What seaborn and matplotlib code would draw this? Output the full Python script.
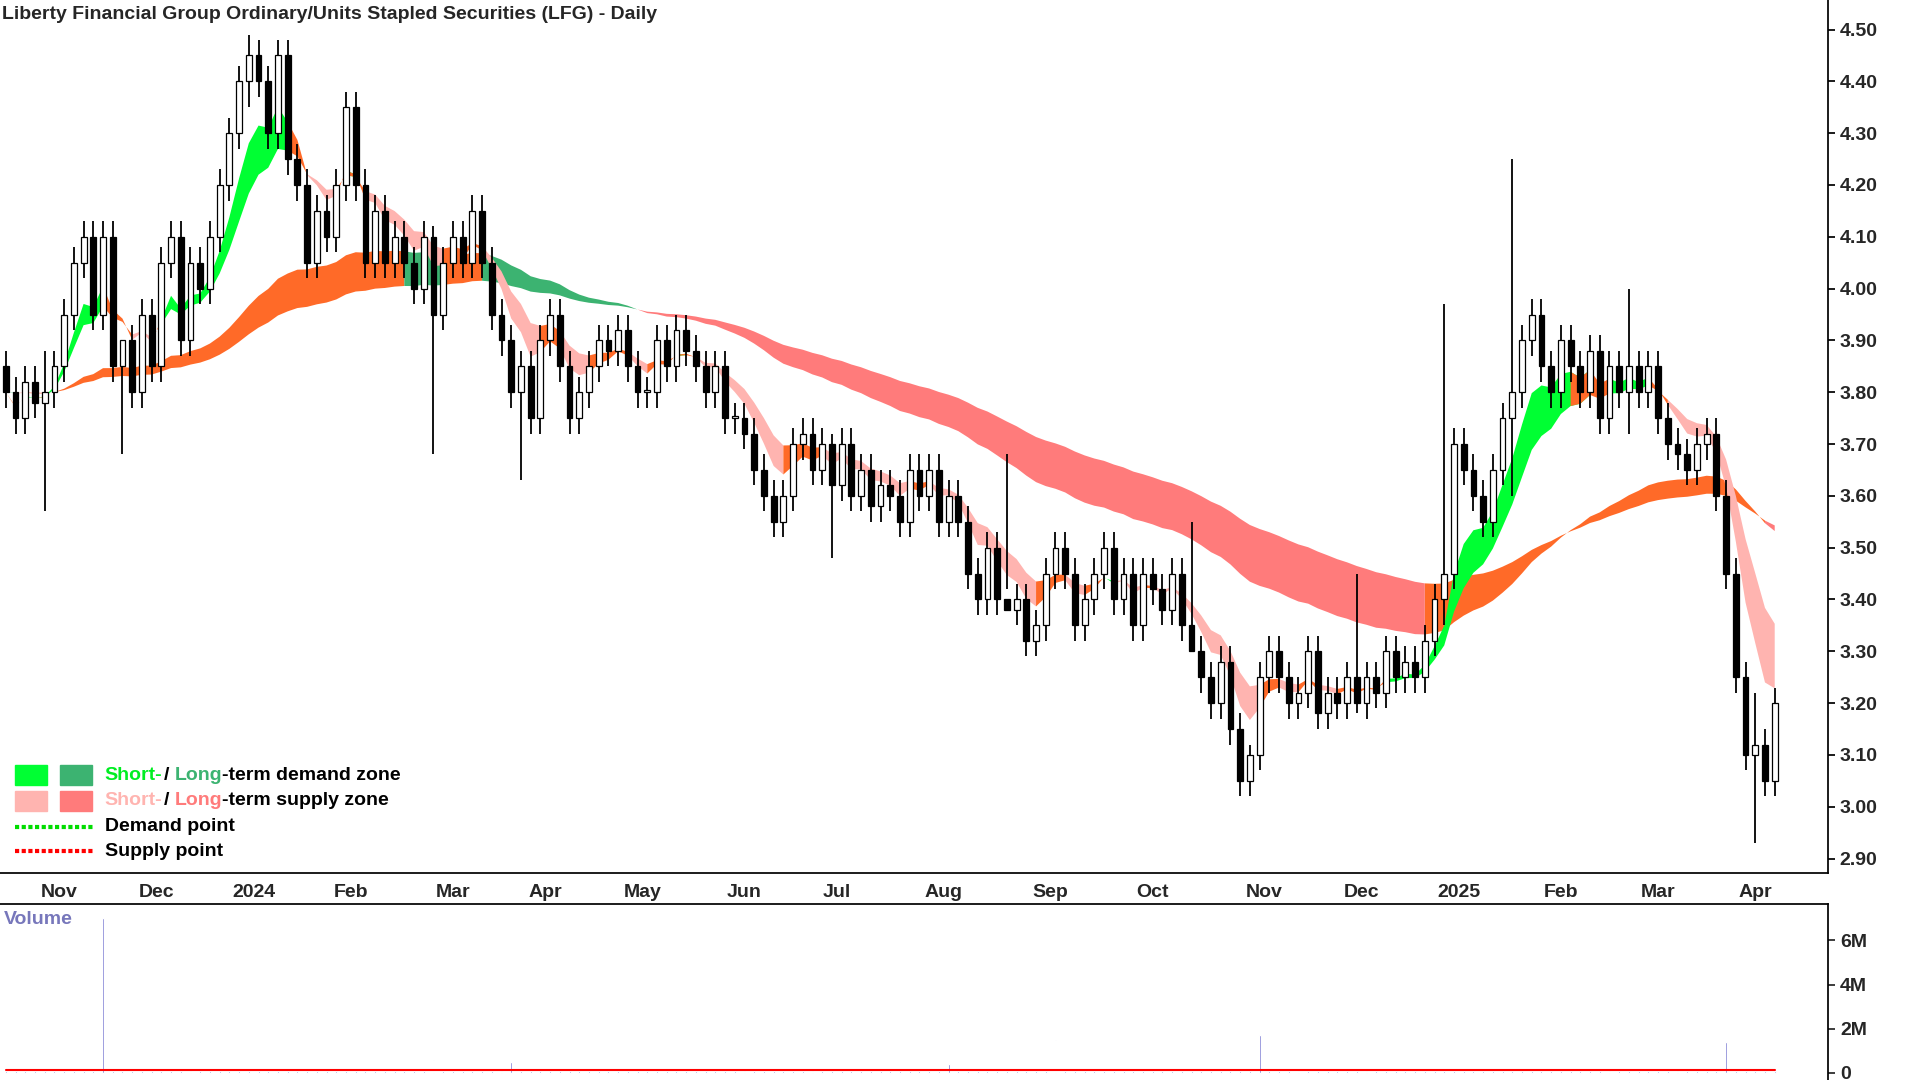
import numpy as np
import pandas as pd
import matplotlib
matplotlib.use("Agg")
import matplotlib.pyplot as plt
import seaborn as sns
from matplotlib.patches import Rectangle
from matplotlib.lines import Line2D

sns.set_theme(style="white")
plt.rcParams["font.family"] = "Liberation Sans"
plt.rcParams["font.weight"] = "bold"
FS = 14

# ---- data (one point ~ every 2 trading days) ----
closes = [3.80, 3.75, 3.82, 3.78, 3.80,
          3.85, 3.95, 4.05, 4.10, 3.95, 4.10, 3.85, 3.90,
          3.80, 3.95, 3.85, 4.05, 4.10, 3.90, 4.05, 4.00, 4.10, 4.20, 4.30,
          4.40, 4.45, 4.40, 4.30, 4.45, 4.25, 4.20, 4.05, 4.15, 4.10, 4.20,
          4.35, 4.20, 4.05, 4.15, 4.05, 4.10, 4.05, 4.00, 4.10, 3.95, 4.05,
          4.10, 4.05, 4.15, 4.05, 3.95, 3.90, 3.80, 3.85, 3.75, 3.90,
          3.95, 3.85, 3.75, 3.80, 3.85, 3.90, 3.88, 3.92, 3.85, 3.80,
          3.80, 3.90, 3.85, 3.92, 3.88, 3.85, 3.80, 3.85, 3.75, 3.75, 3.72,
          3.65, 3.60, 3.55, 3.60, 3.70, 3.72, 3.65, 3.70, 3.62,
          3.70, 3.60, 3.65, 3.58, 3.62, 3.60, 3.55, 3.65, 3.60, 3.65, 3.55,
          3.60, 3.55, 3.45, 3.40, 3.50, 3.40, 3.38, 3.40, 3.32, 3.35, 3.45,
          3.50, 3.45, 3.35, 3.40, 3.45, 3.50, 3.40, 3.45, 3.35, 3.45,
          3.42, 3.38, 3.45, 3.35, 3.30, 3.25, 3.20, 3.28, 3.15, 3.05, 3.10,
          3.25, 3.30, 3.25, 3.20, 3.22, 3.30, 3.18, 3.22, 3.20, 3.25,
          3.20, 3.25, 3.22, 3.30, 3.25, 3.28, 3.25, 3.32, 3.40, 3.45,
          3.70, 3.65, 3.60, 3.55, 3.65, 3.75, 3.80, 3.90, 3.95, 3.85,
          3.80, 3.90, 3.85, 3.80, 3.88, 3.75, 3.85, 3.80, 3.85, 3.80,
          3.85, 3.75, 3.70, 3.68, 3.65, 3.70, 3.72, 3.60, 3.45, 3.25,
          3.10, 3.12, 3.05, 3.20]
first_open = 3.85
wick_spikes = {4: (3.88, 3.57), 12: (3.90, 3.68), 25: (4.49, 4.35), 44: (4.12, 3.68),
               53: (3.88, 3.63), 85: (3.72, 3.48), 103: (3.68, 3.42), 122: (3.55, 3.30),
               128: (3.12, 3.02), 139: (3.45, 3.18), 155: (4.25, 3.60), 148: (3.97, 3.35),
               167: (4.00, 3.72), 180: (3.22, 2.93)}
month_labels = ["Nov", "Dec", "2024", "Feb", "Mar", "Apr", "May", "Jun", "Jul", "Aug",
                "Sep", "Oct", "Nov", "Dec", "2025", "Feb", "Mar", "Apr"]
month_start_index = [5.5, 15.5, 25.5, 35.5, 46, 55.5, 65.5, 76, 85.5, 96.5, 107.5, 118, 129.5, 139.5, 149.5, 160, 170, 180]
volume_m = [0.1] * len(closes)
volume_spikes = {10: 7.0, 44: 0.6, 52: 0.5, 97: 0.4, 108: 1.5, 129: 1.7, 177: 1.4}

# ---- derived ----
n = len(closes)
c = np.array(closes)
o = np.concatenate([[first_open], c[:-1]])
hi = np.maximum(o, c) + 0.03
lo = np.minimum(o, c) - 0.03
for k, (h, l) in wick_spikes.items():
    hi[k], lo[k] = h, l
for k, v in volume_spikes.items():
    volume_m[k] = v
x = np.arange(n)
s = pd.Series(c)
sf, ss = s.ewm(span=6).mean().values, s.ewm(span=11).mean().values
lf = s.ewm(span=45, adjust=False).mean().values
ls = s.ewm(span=75, adjust=False).mean().values

W, H = 1568, 882
fig = plt.figure(figsize=(19.2, 10.8), dpi=100)
ax = fig.add_axes([0, 1 - 713 / H, 1493 / W, 713 / H])
axv = fig.add_axes([0, 0, 1493 / W, (882 - 738) / H])

def fill_masks(a, b, masks):
    for m, col in masks:
        mm = m.copy()
        mm[1:] |= m[:-1]
        ax.fill_between(x, a, b, where=mm, color=col, lw=0, zorder=1)

dl = np.gradient(lf)
l_green = (lf >= ls) & (dl <= 0) & (x < n // 2)
l_red = (lf < ls) & (dl < 0)
l_orange = ~(l_green | l_red)
fill_masks(lf, ls, [(l_orange, "#ff6a28"), (l_red, "#ff7b7b"), (l_green, "#3cb371")])

ds = np.gradient(sf)
s_up = (sf >= ss) & (ds > 0)
s_dn = (sf < ss) & (ds < 0)
fill_masks(sf, ss, [(s_up, "#00ff33"), (s_dn, "#ffb4b0"), (~(s_up | s_dn), "#ff6a28")])

for i in range(n):
    ax.vlines(x[i], lo[i], hi[i], color="black", lw=1.3, zorder=3)
    bot, top = min(o[i], c[i]), max(o[i], c[i])
    face = "white" if c[i] >= o[i] else "black"
    ax.add_patch(Rectangle((x[i] - 0.3, bot), 0.6, max(top - bot, 0.004),
                           facecolor=face, edgecolor="black", lw=0.9, zorder=4))

ax.set_xlim(-0.6, n - 1 + 5.5)
ax.set_ylim(2.872, 4.557)
ax.yaxis.tick_right()
yt = np.arange(2.9, 4.51, 0.1)
ax.set_yticks(yt)
ax.set_yticklabels([f"{v:.2f}" for v in yt], fontsize=FS, fontweight="bold")
ax.set_xticks(month_start_index)
ax.set_xticklabels(month_labels, fontsize=FS, fontweight="bold")
ax.tick_params(axis="both", direction="out", length=5, color="black", pad=3)
for sp in ["top", "left"]:
    ax.spines[sp].set_visible(False)
for sp in ["right", "bottom"]:
    ax.spines[sp].set_color("black")

axv.bar(x, volume_m, color="#6666cc", width=0.2)
axv.plot(x, pd.Series(volume_m).rolling(10, min_periods=1).median().values * 1.3, color="red", lw=1.5)
axv.set_xlim(ax.get_xlim())
axv.set_ylim(-0.33, 7.67)
axv.yaxis.tick_right()
axv.set_yticks([0, 2, 4, 6])
axv.set_yticklabels(["0", "2M", "4M", "6M"], fontsize=FS, fontweight="bold")
axv.set_xticks([])
axv.tick_params(axis="y", direction="out", length=5)
for sp in ["bottom", "left"]:
    axv.spines[sp].set_visible(False)
axv.spines["right"].set_color("black")
axv.spines["top"].set_color("black")
axv.text(0.002, 0.96, "Volume", transform=axv.transAxes, color="#7777bb",
         fontsize=FS, fontweight="bold", va="top")

fig.text(2 / W, 1 - 12 / H, "Liberty Financial Group Ordinary/Units Stapled Securities (LFG) - Daily",
         fontsize=FS, fontweight="bold", va="center")

def sw(xp, yp, col):
    fig.add_artist(Rectangle((xp / W, 1 - (yp + 8) / H), 26 / W, 16 / H, color=col, transform=fig.transFigure))
sw(12, 633, "#00ff33"); sw(49, 633, "#3cb371")
sw(12, 654, "#ffb4b0"); sw(49, 654, "#ff7b7b")
def t(xp, yp, s, col):
    return fig.text(xp / W, 1 - yp / H, s, color=col, fontsize=FS, fontweight="bold", va="center")
t(85, 633, "Short-", "#00ee22"); t(134, 633, "/", "black"); t(143, 633, "Long", "#3cb371"); t(181, 633, "-term demand zone", "black")
t(85, 654, "Short-", "#ffb4b0"); t(134, 654, "/", "black"); t(143, 654, "Long", "#ff7b7b"); t(181, 654, "-term supply zone", "black")
fig.add_artist(Line2D([12 / W, 76 / W], [1 - 675 / H] * 2, color="#00dd00", lw=3, ls=(0, (1, 0.6))))
fig.add_artist(Line2D([12 / W, 76 / W], [1 - 695 / H] * 2, color="red", lw=3, ls=(0, (1, 0.6))))
t(86, 675, "Demand point", "black"); t(86, 695, "Supply point", "black")

fig.savefig("out.png", dpi=100)
